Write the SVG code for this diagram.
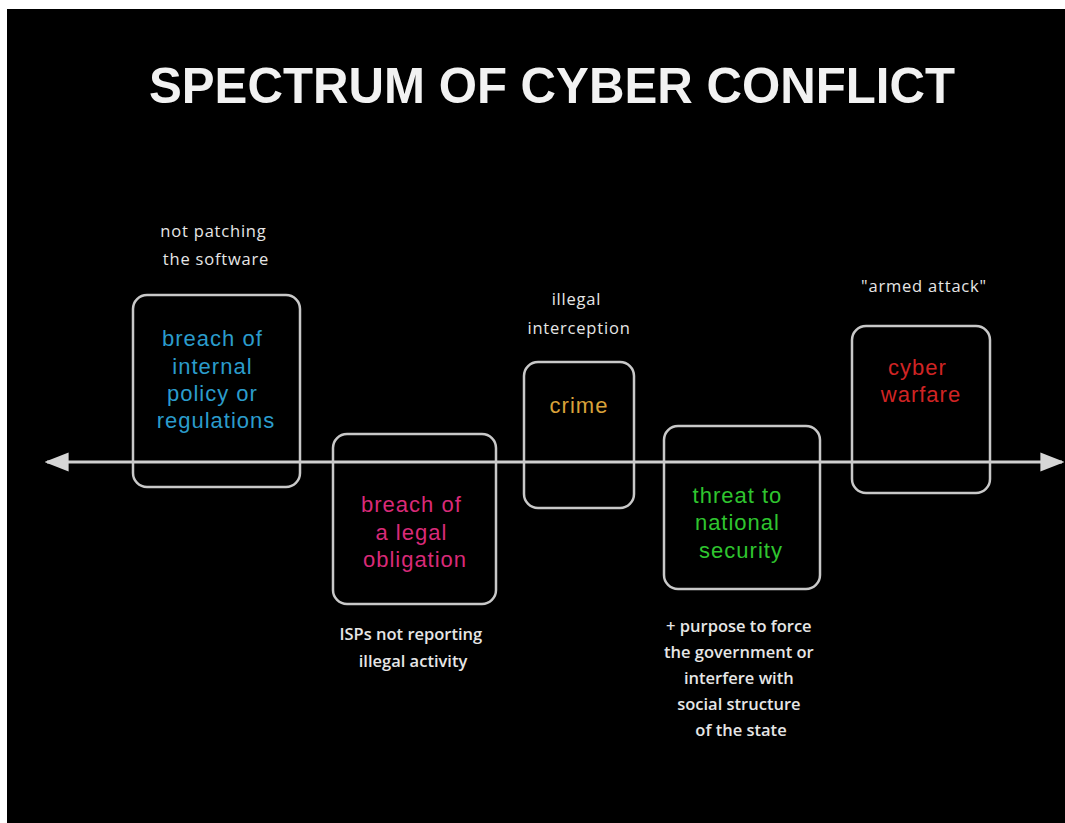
<svg xmlns="http://www.w3.org/2000/svg" width="1065" height="823" viewBox="0 0 1065 823">
  <style>
    .title { font-family: "Liberation Sans", Arial, sans-serif; font-weight: bold; font-size: 50px; fill: #f2f2f2; text-anchor: middle; }
    .box { fill: none; stroke: #c8c8c8; stroke-width: 2.5; }
    .term { font-family: "Liberation Sans", Arial, sans-serif; font-size: 22px; letter-spacing: 1px; text-anchor: middle; }
    .note { font-family: "Open Sans", "Liberation Sans", sans-serif; font-size: 16.5px; letter-spacing: 0.8px; fill: #e6e6e6; text-anchor: middle; }
    .note-b { font-family: "Open Sans", "Liberation Sans", sans-serif; font-size: 16.5px; font-weight: 600; fill: #e6e6e6; text-anchor: middle; }
    .axis { stroke: #cfcfcf; stroke-width: 3; fill: none; }
  </style>
  <defs>
    <marker id="head" viewBox="0 0 10 8" refX="9" refY="4" markerWidth="8" markerHeight="6.4" markerUnits="strokeWidth" orient="auto-start-reverse">
      <path d="M0,0 L10,4 L0,8 z" fill="#d6d6d6"/>
    </marker>
  </defs>

  <rect x="0" y="0" width="1065" height="823" fill="#ffffff"/>
  <rect x="7" y="9" width="1058" height="814" fill="#000000"/>

  <text class="title" x="552" y="103" textLength="806" lengthAdjust="spacingAndGlyphs">SPECTRUM OF CYBER CONFLICT</text>

  <g id="connectors">
    <line class="axis" x1="47" y1="462" x2="1062" y2="462" marker-start="url(#head)" marker-end="url(#head)"/>
  </g>

  <g id="internal-policy">
    <rect class="box" x="133" y="295" width="167" height="192" rx="14"/>
    <text class="term" fill="#2b9ccc">
      <tspan x="216" y="346">breach of</tspan>
      <tspan x="216" y="374">internal</tspan>
      <tspan x="216" y="401">policy or</tspan>
      <tspan x="216" y="428">regulations</tspan>
    </text>
    <text class="note">
      <tspan x="216" y="237">not patching</tspan>
      <tspan x="216" y="265">the software</tspan>
    </text>
  </g>

  <g id="legal-obligation">
    <rect class="box" x="333" y="434" width="163" height="170" rx="14"/>
    <text class="term" fill="#d92a78">
      <tspan x="415" y="512">breach of</tspan>
      <tspan x="415" y="540">a legal</tspan>
      <tspan x="415" y="567">obligation</tspan>
    </text>
    <text class="note-b">
      <tspan x="413" y="640">ISPs not reporting</tspan>
      <tspan x="413" y="667">illegal activity</tspan>
    </text>
  </g>

  <g id="crime">
    <rect class="box" x="524" y="362" width="110" height="146" rx="14"/>
    <text class="term" fill="#d9a23a" x="579" y="413">crime</text>
    <text class="note">
      <tspan x="579" y="305">illegal</tspan>
      <tspan x="579" y="334">interception</tspan>
    </text>
  </g>

  <g id="national-security">
    <rect class="box" x="664" y="426" width="156" height="163" rx="14"/>
    <text class="term" fill="#2fc52f">
      <tspan x="741" y="503">threat to</tspan>
      <tspan x="741" y="530">national</tspan>
      <tspan x="741" y="558">security</tspan>
    </text>
    <text class="note-b">
      <tspan x="741" y="632">+ purpose to force</tspan>
      <tspan x="741" y="658">the government or</tspan>
      <tspan x="741" y="684">interfere with</tspan>
      <tspan x="741" y="710">social structure</tspan>
      <tspan x="741" y="736">of the state</tspan>
    </text>
  </g>

  <g id="cyber-warfare">
    <rect class="box" x="852" y="326" width="138" height="167" rx="14"/>
    <text class="term" fill="#d02424">
      <tspan x="921" y="375">cyber</tspan>
      <tspan x="921" y="402">warfare</tspan>
    </text>
    <text class="note" x="924" y="292">"armed attack"</text>
  </g>
</svg>
